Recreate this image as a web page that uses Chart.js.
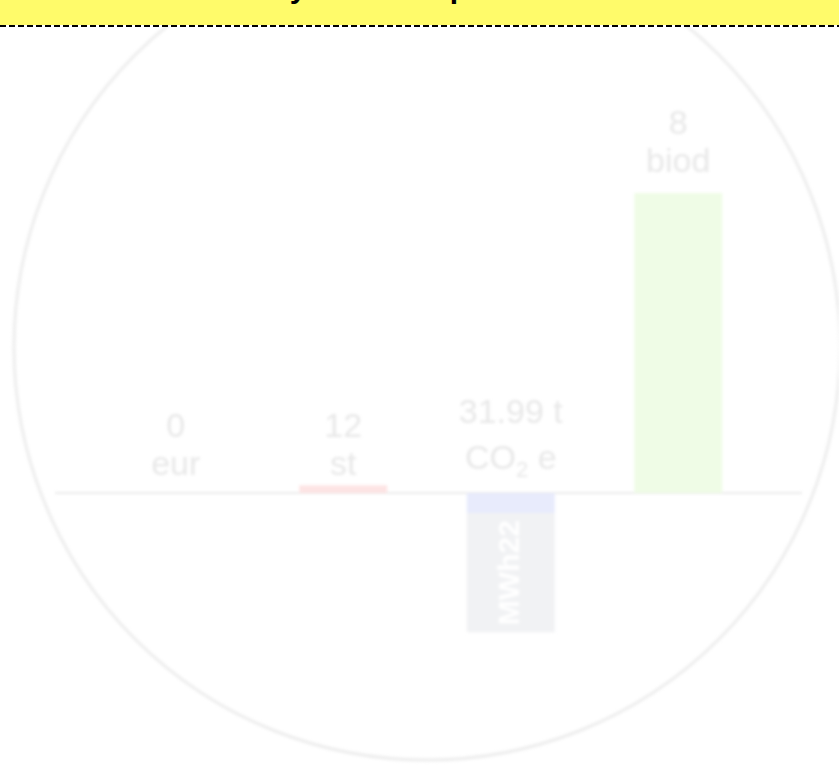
<!DOCTYPE html>
<html>
<head>
<meta charset="utf-8">
<script src="https://cdn.jsdelivr.net/npm/chart.js@4"></script>
<style>
html, body { margin: 0; padding: 0; background: #fff; width: 839px; height: 765px; overflow: hidden; }
#head { position: absolute; left: 0; top: 0; width: 839px; height: 25px; background: #fffb6a; overflow: hidden; z-index: 2; }
#head h1 { position: absolute; left: 218px; top: -27px; margin: 0; font: bold 30px/1 "Liberation Sans", Arial, sans-serif; color: #000; white-space: nowrap; }
#dash { position: absolute; left: 0; top: 25px; width: 839px; height: 2px; z-index: 2;
  background: repeating-linear-gradient(to right, #000 0 6px, transparent 6px 9px); }
#wrap { position: absolute; left: 0; top: 0; width: 839px; height: 765px; }
#impact { filter: blur(1.4px); }
</style>
</head>
<body>
<div id="head"><h1>Yearly data &amp; impact</h1></div>
<div id="dash"></div>
<div id="wrap"><canvas id="impact" width="839" height="765"></canvas></div>

<script>
// --- data ---
const categories = ['eur', 'st', 'co2', 'biod'];
const valueLabels = ['0', '12', '31.99 t', '8'];
const unitLabels = ['eur', 'st', 'CO₂ e', 'biod'];
const impactScores = [0, 2.6, -6.7, 100];
const energyScores = [0, 0, -39.7, 0];
const energyLabels = ['', '', 'MWh22', ''];

const barColors = ['#f3f3f3', '#fde4e4', '#e8ebfc', '#effce6'];
const energyColor = '#f1f2f4';
const textColor = '#e8e8e8';
const labelFont = '34px "Liberation Sans", Arial, sans-serif';
const subFont = '22px "Liberation Sans", Arial, sans-serif';

// ring + zero line behind the bars
const backdrop = {
    id: 'backdrop',
    beforeDatasetsDraw(chart) {
        const ctx = chart.ctx;
        const zero = chart.scales.y.getPixelForValue(0);
        ctx.save();
        ctx.strokeStyle = '#ededed';
        ctx.lineWidth = 3;
        ctx.beginPath();
        ctx.arc(427, 347, 413, 0, Math.PI * 2);
        ctx.stroke();

        ctx.strokeStyle = '#ebebeb';
        ctx.lineWidth = 2;
        ctx.beginPath();
        ctx.moveTo(chart.chartArea.left - 37, zero);
        ctx.lineTo(chart.chartArea.right + 40, zero);
        ctx.stroke();
        ctx.restore();
    }
};

// draws text, turning "₂" into a lowered small 2
function drawSubText(ctx, str, cx, y) {
    const parts = str.split('₂');
    ctx.font = labelFont;
    const widths = parts.map(p => ctx.measureText(p).width);
    ctx.font = subFont;
    const subW = ctx.measureText('2').width;
    const total = widths.reduce((a, b) => a + b, 0) + subW * (parts.length - 1);
    let x = cx - total / 2;
    ctx.textAlign = 'left';
    parts.forEach((p, i) => {
        ctx.font = labelFont;
        ctx.fillText(p, x, y);
        x += widths[i];
        if (i < parts.length - 1) {
            ctx.font = subFont;
            ctx.fillText('2', x, y + 8);
            x += subW;
        }
    });
}

const barLabels = {
    id: 'barLabels',
    afterDatasetsDraw(chart) {
        const ctx = chart.ctx;
        const zero = chart.scales.y.getPixelForValue(0);
        const bars = chart.getDatasetMeta(0).data;
        const energyBars = chart.getDatasetMeta(1).data;
        ctx.save();
        ctx.fillStyle = textColor;
        ctx.textBaseline = 'alphabetic';
        bars.forEach((bar, i) => {
            const top = Math.min(bar.y, bar.base);
            // short bars keep their label on the baseline
            const unitY = (zero - top > 20) ? top - 21 : zero - 18;
            const hasSub = unitLabels[i].includes('₂');
            drawSubText(ctx, unitLabels[i], bar.x, unitY - (hasSub ? 6 : 0));
            ctx.font = labelFont;
            ctx.textAlign = 'center';
            ctx.fillText(valueLabels[i], bar.x, unitY - (hasSub ? 52 : 38));
        });

        // rotated captions inside the lower stack
        ctx.fillStyle = '#ffffff';
        ctx.font = 'bold 30px "Liberation Sans", Arial, sans-serif';
        ctx.textAlign = 'center';
        ctx.textBaseline = 'middle';
        energyBars.forEach((bar, i) => {
            if (!energyLabels[i]) return;
            ctx.save();
            ctx.translate(bar.x, (bar.y + bar.base) / 2);
            ctx.rotate(-Math.PI / 2);
            ctx.fillText(energyLabels[i], 0, 0);
            ctx.restore();
        });
        ctx.restore();
    }
};

new Chart(document.getElementById('impact'), {
    type: 'bar',
    data: {
        labels: categories,
        datasets: [
            {
                label: 'impact',
                data: impactScores,
                backgroundColor: barColors,
                borderWidth: 0,
                barPercentage: 0.525,
                categoryPercentage: 1
            },
            {
                label: 'energy',
                data: energyScores,
                backgroundColor: energyColor,
                borderWidth: 0,
                barPercentage: 0.525,
                categoryPercentage: 1
            }
        ]
    },
    options: {
        responsive: false,
        animation: false,
        layout: { padding: { left: 92, right: 77, top: 100, bottom: 65 } },
        plugins: { legend: { display: false }, tooltip: { enabled: false } },
        scales: {
            x: { stacked: true, display: false },
            y: { stacked: true, display: false, min: -69, max: 131 }
        }
    },
    plugins: [backdrop, barLabels]
});
</script>
</body>
</html>
